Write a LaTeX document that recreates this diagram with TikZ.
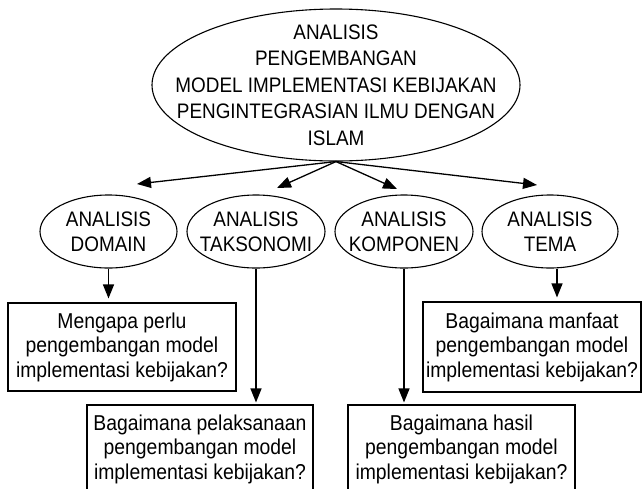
\documentclass[tikz,border=0pt]{standalone}
\usepackage{fontspec}
\setmainfont[FakeStretch=0.9]{Liberation Sans}
\usetikzlibrary{arrows.meta,shapes.geometric}

\tikzset{
  analisis/.style={draw,ellipse,line width=1.1pt,inner sep=-40pt,align=center,
    font=\fontsize{21}{25}\selectfont},
  tanya/.style={draw,rectangle,line width=1.1pt,inner sep=0pt,align=center,
    font=\fontsize{21.5}{24.5}\selectfont},
  panah/.style={->,line width=1.3pt},
}

\begin{document}
\begin{tikzpicture}[x=1pt,y=-1pt,>={Triangle[length=14pt,width=11pt]}]
\useasboundingbox (0,0) rectangle (642,488);
\clip (0,0) rectangle (642,488);
% pusat
\node[analisis,minimum width=368pt,minimum height=152pt,font=\fontsize{21}{26.5}\selectfont] (utama) at (336,85)
  {ANALISIS\\PENGEMBANGAN\\MODEL IMPLEMENTASI KEBIJAKAN\\PENGINTEGRASIAN ILMU DENGAN\\ISLAM};
% empat analisis
\node[analisis,minimum width=137pt,minimum height=73pt] (domain) at (108.5,231.5) {ANALISIS\\DOMAIN};
\node[analisis,minimum width=138pt,minimum height=73pt] (taksonomi) at (256,231.5) {ANALISIS\\TAKSONOMI};
\node[analisis,minimum width=138pt,minimum height=73pt] (komponen) at (404,231.5) {ANALISIS\\KOMPONEN};
\node[analisis,minimum width=136pt,minimum height=73pt] (tema) at (550,231.5) {ANALISIS\\TEMA};
% pertanyaan
\node[tanya,minimum width=228pt,minimum height=88pt] (q1) at (122,347) {Mengapa perlu\\pengembangan model\\implementasi kebijakan?};
\node[tanya,minimum width=226pt,minimum height=88pt] (q2) at (200,449) {Bagaimana pelaksanaan\\pengembangan model\\implementasi kebijakan?};
\node[tanya,minimum width=227pt,minimum height=88pt] (q3) at (461.5,449) {Bagaimana hasil\\pengembangan model\\implementasi kebijakan?};
\node[tanya,minimum width=218pt,minimum height=90pt] (q4) at (532,347) {Bagaimana manfaat\\pengembangan model\\implementasi kebijakan?};
% ujung panah atas
\coordinate (u1) at (137,184);
\coordinate (u2) at (277,188);
\coordinate (u3) at (397,189);
\coordinate (u4) at (537,185);
\foreach \u in {u1,u2,u3,u4}
  \draw[panah] (utama.south) -- (\u);
\draw[panah,shorten >=4pt] (domain.south) -- (domain.south |- q1.north);
\draw[panah,shorten >=2pt] (taksonomi.south) -- (taksonomi.south |- q2.north);
\draw[panah,shorten >=2pt] (komponen.south) -- (komponen.south |- q3.north);
\draw[panah,shorten >=4pt] ([xshift=7pt]tema.south) -- ([xshift=7pt]tema.south |- q4.north);
\end{tikzpicture}
\end{document}
